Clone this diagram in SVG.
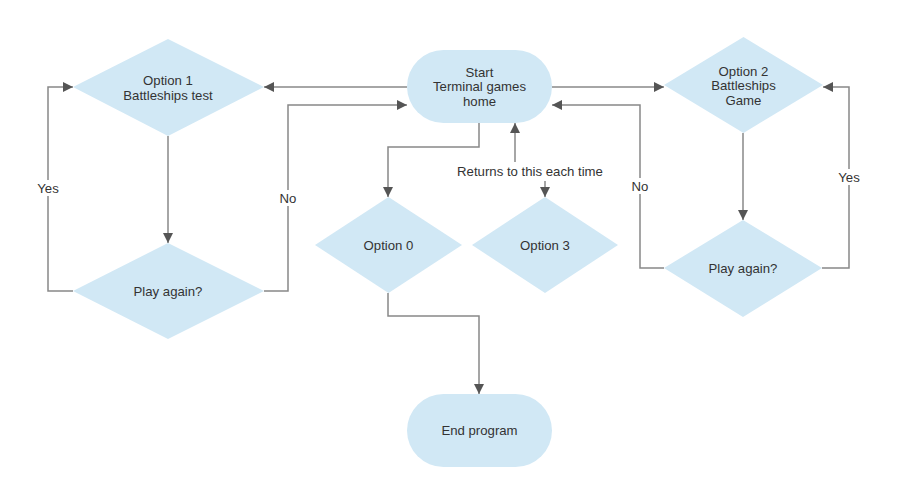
<svg xmlns="http://www.w3.org/2000/svg" width="917" height="493" viewBox="0 0 917 493">
<defs>
<marker id="arr" viewBox="0 0 10 10" refX="10" refY="5" markerWidth="10" markerHeight="10" markerUnits="userSpaceOnUse" orient="auto">
<path d="M0,0 L10,5 L0,10 Z" fill="#555"/>
</marker>
</defs>
<style>
.shape{fill:#d1e8f5;stroke:none}
.t{font-family:"Liberation Sans",Arial,sans-serif;font-size:13.2px;fill:#333;text-anchor:middle;dominant-baseline:central}
.c{fill:none;stroke:#888;stroke-width:1.5;marker-end:url(#arr)}
.lb{fill:#fff}
</style>
<rect width="917" height="493" fill="#fff"/>
<g id="connectors">
<path class="c" d="M407,87 H264"/>
<path class="c" d="M264,291 H288 V105 H407"/>
<path class="c" d="M73,291 H48 V87 H73"/>
<path class="c" d="M168,136 V243"/>
<path class="c" d="M552,87 H664"/>
<path class="c" d="M479,123 V147 H388 V197"/>
<path class="c" d="M515,162 V123"/>
<path class="c" d="M545,181 V197"/>
<path class="c" d="M388,293 V316 H479 V394"/>
<path class="c" d="M743,133 V220"/>
<path class="c" d="M664,268 H640 V105 H552"/>
<path class="c" d="M822,268 H849 V87 H823"/>
<rect class="lb" x="35" y="180" width="26" height="16"/>
<text class="t" x="48" y="188">Yes</text>
<rect class="lb" x="277" y="190" width="22" height="16"/>
<text class="t" x="288" y="198">No</text>
<rect class="lb" x="629" y="178" width="22" height="16"/>
<text class="t" x="640" y="186">No</text>
<rect class="lb" x="836" y="169" width="26" height="16"/>
<text class="t" x="849" y="177">Yes</text>
<text class="t" x="530" y="171">Returns to this each time</text>
</g>
<g id="start">
<rect class="shape" x="407" y="50" width="145" height="73" rx="36.5"/>
<text class="t" x="479.5" y="72">Start</text>
<text class="t" x="479.5" y="86.5">Terminal games</text>
<text class="t" x="479.5" y="101">home</text>
</g>
<g id="option1">
<polygon class="shape" points="168,39 264,87 168,136 73,87"/>
<text class="t" x="168" y="80">Option 1</text>
<text class="t" x="168" y="95">Battleships test</text>
</g>
<g id="playagain1">
<polygon class="shape" points="168,243 264,291 168,339 73,291"/>
<text class="t" x="168" y="291">Play again?</text>
</g>
<g id="option2">
<polygon class="shape" points="743.5,37 823,85 743.5,133 664,85"/>
<text class="t" x="743.5" y="71">Option 2</text>
<text class="t" x="743.5" y="85.5">Battleships</text>
<text class="t" x="743.5" y="100">Game</text>
</g>
<g id="playagain2">
<polygon class="shape" points="743,220 822,268 743,317 664,268"/>
<text class="t" x="743" y="268">Play again?</text>
</g>
<g id="option0">
<polygon class="shape" points="388.5,197 462,245 388.5,293 315,245"/>
<text class="t" x="388.5" y="245">Option 0</text>
</g>
<g id="option3">
<polygon class="shape" points="545,197 618,245 545,293 472,245"/>
<text class="t" x="545" y="245">Option 3</text>
</g>
<g id="end">
<rect class="shape" x="407" y="394" width="145" height="73" rx="36.5"/>
<text class="t" x="479.5" y="430.5">End program</text>
</g>
</svg>
